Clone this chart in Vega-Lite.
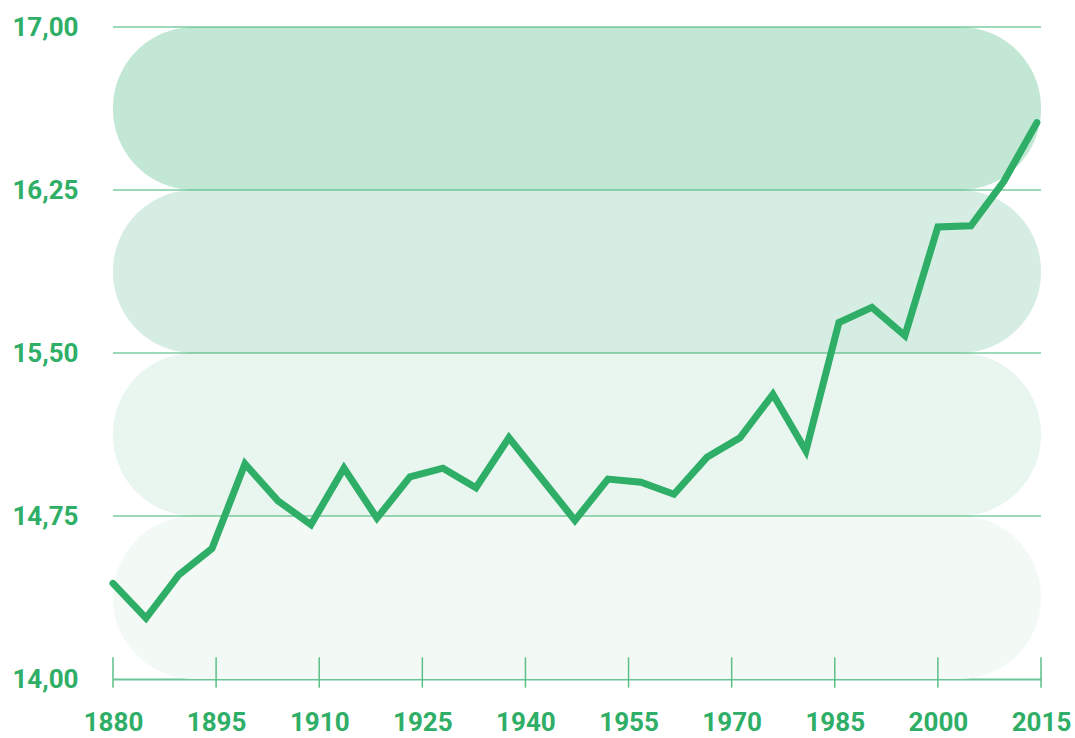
{
  "$schema": "https://vega.github.io/schema/vega-lite/v6.json",
  "width": 928,
  "height": 652,
  "autosize": {"type": "none"},
  "padding": {"left": 113, "top": 27, "right": 34, "bottom": 59},
  "background": "#ffffff",
  "config": {"view": {"stroke": null}, "font": "Roboto"},
  "datasets": {
    "bands": [
      {"level": "a", "lo": 14.0, "hi": 14.75},
      {"level": "b", "lo": 14.75, "hi": 15.5},
      {"level": "c", "lo": 15.5, "hi": 16.25},
      {"level": "d", "lo": 16.25, "hi": 17.0}
    ],
    "grid": [{"v": 14.75}, {"v": 15.5}, {"v": 16.25}, {"v": 17.0}],
    "ticks": [{"t": 1880}, {"t": 1895}, {"t": 1910}, {"t": 1925}, {"t": 1940}, {"t": 1955}, {"t": 1970}, {"t": 1985}, {"t": 2000}, {"t": 2015}],
    "temps": [
      {"year": 1880, "temp": 14.44},
      {"year": 1884.8, "temp": 14.28},
      {"year": 1889.6, "temp": 14.48},
      {"year": 1894.4, "temp": 14.6},
      {"year": 1899.2, "temp": 14.99},
      {"year": 1904, "temp": 14.82},
      {"year": 1908.8, "temp": 14.71},
      {"year": 1913.6, "temp": 14.97},
      {"year": 1918.4, "temp": 14.74},
      {"year": 1923.2, "temp": 14.93},
      {"year": 1928, "temp": 14.97},
      {"year": 1932.8, "temp": 14.88},
      {"year": 1937.6, "temp": 15.11},
      {"year": 1942.4, "temp": 14.92},
      {"year": 1947.2, "temp": 14.73},
      {"year": 1952, "temp": 14.92},
      {"year": 1956.8, "temp": 14.905},
      {"year": 1961.6, "temp": 14.85},
      {"year": 1966.4, "temp": 15.02},
      {"year": 1971.2, "temp": 15.11},
      {"year": 1976, "temp": 15.31},
      {"year": 1980.8, "temp": 15.05},
      {"year": 1985.6, "temp": 15.64},
      {"year": 1990.4, "temp": 15.71},
      {"year": 1995.2, "temp": 15.58},
      {"year": 2000, "temp": 16.08},
      {"year": 2004.8, "temp": 16.085},
      {"year": 2009.6, "temp": 16.29},
      {"year": 2014.4, "temp": 16.56}
    ]
  },
  "layer": [
    {
      "data": {"name": "bands"},
      "mark": {"type": "rect", "cornerRadius": 81},
      "encoding": {
        "x": {"datum": 1880, "type": "quantitative", "title": null},
        "x2": {"datum": 2015},
        "y": {"field": "lo", "type": "quantitative", "title": null},
        "y2": {"field": "hi"},
        "color": {"field": "level", "type": "nominal", "legend": null,
          "scale": {"domain": ["a", "b", "c", "d"], "range": ["#f3faf6", "#e8f6ef", "#d5ede2", "#c2e7d4"]}}
      }
    },
    {
      "data": {"name": "grid"},
      "mark": {"type": "rule", "color": "#3db373", "strokeWidth": 1},
      "encoding": {
        "x": {"datum": 1880, "type": "quantitative"},
        "x2": {"datum": 2015},
        "y": {"field": "v", "type": "quantitative", "title": null}
      }
    },
    {
      "data": {"name": "ticks"},
      "mark": {"type": "rule", "color": "#5cbf88", "strokeWidth": 1.5},
      "encoding": {
        "x": {"field": "t", "type": "quantitative", "title": null},
        "y": {"datum": 14.1, "type": "quantitative"},
        "y2": {"datum": 13.96}
      }
    },
    {
      "data": {"name": "temps"},
      "mark": {"type": "line", "color": "#2eae66", "strokeWidth": 7, "strokeCap": "round", "strokeJoin": "miter"},
      "encoding": {
        "x": {"field": "year", "type": "quantitative", "title": null,
          "scale": {"domain": [1880, 2015], "nice": false, "zero": false},
          "axis": {"values": [1880, 1895, 1910, 1925, 1940, 1955, 1970, 1985, 2000, 2015], "format": "d",
            "grid": false, "ticks": false, "domain": true, "domainColor": "#6cc596", "domainWidth": 2,
            "labelFont": "Roboto", "labelFontSize": 26, "labelFontWeight": "bold", "labelColor": "#2eae66",
            "labelPadding": 30, "labelFlush": false, "labelOverlap": false}},
        "y": {"field": "temp", "type": "quantitative", "title": null,
          "scale": {"domain": [14, 17], "nice": false, "zero": false},
          "axis": {"values": [14, 14.75, 15.5, 16.25, 17],
            "labelExpr": "replace(format(datum.value, '.2f'), '.', ',')",
            "grid": false, "ticks": false, "domain": false,
            "labelFont": "Roboto", "labelFontSize": 26, "labelFontWeight": "bold", "labelColor": "#2eae66",
            "labelPadding": 35, "labelFlush": false, "labelOverlap": false}}
      }
    }
  ]
}
